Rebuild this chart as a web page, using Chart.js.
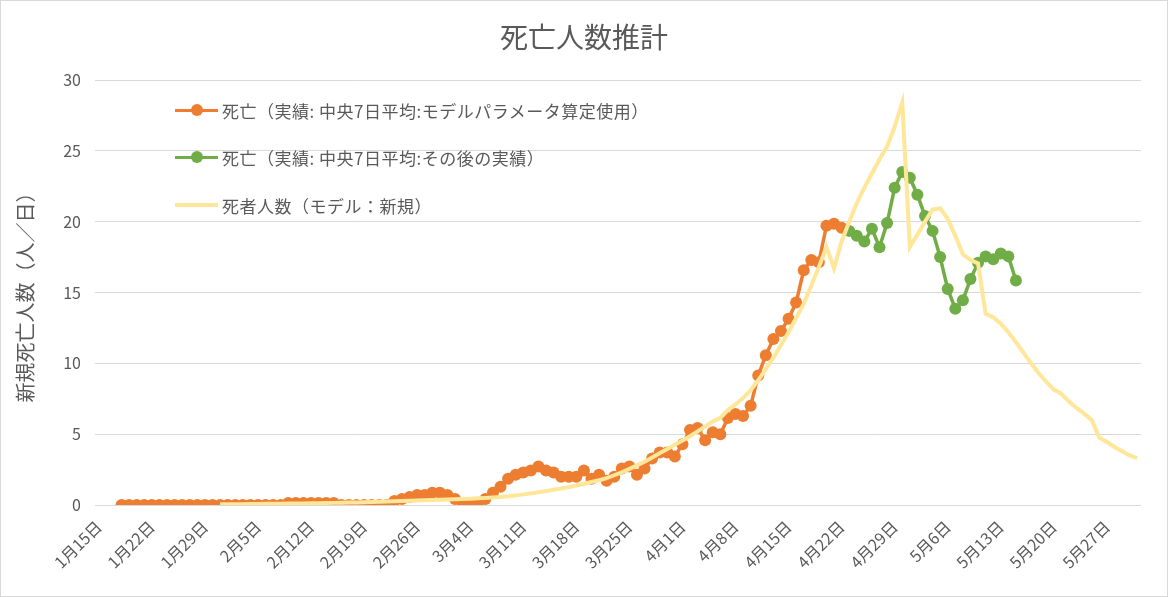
<!DOCTYPE html>
<html lang="ja">
<head>
<meta charset="utf-8">
<script src="https://cdn.jsdelivr.net/npm/chart.js@4.4.1/dist/chart.umd.min.js"></script>
<style>
  html, body { margin: 0; padding: 0; background: #fff; }
  #wrap { position: relative; width: 1168px; height: 597px; }
  #frame { position: absolute; left: 0; top: 0; width: 1168px; height: 597px; box-sizing: border-box; border: 1px solid #d9d9d9; pointer-events: none; }
  canvas { position: absolute; left: 0; top: 0; }
  .legend { position: absolute; left: 175px; top: 0; font-family: "Noto Sans CJK JP", sans-serif; font-size: 17px; letter-spacing: 0.5px; color: #595959; }
  .row { position: absolute; left: 0; height: 24px; display: flex; align-items: center; white-space: nowrap; }
  .mark { position: relative; width: 43px; height: 24px; margin-right: 4px; }
  .mark i { position: absolute; left: 0; right: 0; top: 10.5px; height: 3.5px; }
  .mark b { position: absolute; left: 16px; top: 6px; width: 12px; height: 12px; border-radius: 50%; }
</style>
</head>
<body>
<div id="wrap">
  <canvas id="death-chart" width="1168" height="597"></canvas>
  <div class="legend">
    <div class="row" style="top:98px"><span class="mark"><i style="background:#ED7D31"></i><b style="background:#ED7D31"></b></span>死亡（実績: 中央7日平均:モデルパラメータ算定使用）</div>
    <div class="row" style="top:145px"><span class="mark"><i style="background:#70AD47"></i><b style="background:#70AD47"></b></span>死亡（実績: 中央7日平均:その後の実績）</div>
    <div class="row" style="top:193px"><span class="mark"><i style="background:#FFE699;height:4px;top:10px"></i></span>死者人数（モデル：新規）</div>
  </div>
  <div id="frame"></div>
</div>
<script>
// days from 1/15 to 5/31 (2020)
var dayLabels = []
for (var i = 0; i < 138; i++) {
  var d = new Date(Date.UTC(2020, 0, 15 + i))
  dayLabels.push((d.getUTCMonth() + 1) + '月' + d.getUTCDate() + '日')
}

// 死亡（実績: 中央7日平均:モデルパラメータ算定使用） from 1月18日
var fittedStart = '1月18日'
var fittedDeaths = [
  0, 0, 0, 0, 0, 0, 0, 0, 0, 0, 0, 0, 0, 0, 0, 0, 0, 0, 0, 0, 0, 0,
  0.14, 0.14, 0.14, 0.14, 0.14, 0.14, 0.14,
  0, 0, 0, 0, 0, 0, 0,
  0.29, 0.43, 0.57, 0.71, 0.71, 0.86, 0.86, 0.71, 0.43, 0.14,
  0.14, 0.14, 0.43, 0.86, 1.29, 1.86, 2.14, 2.29, 2.43, 2.71,
  2.43, 2.29, 2.0, 2.0, 2.0, 2.43, 1.86, 2.14, 1.71, 2.0,
  2.57, 2.71, 2.14, 2.57, 3.29, 3.71, 3.71, 3.43, 4.29, 5.29,
  5.43, 4.57, 5.14, 5.0, 6.14, 6.43, 6.29, 7.0, 9.14, 10.57,
  11.71, 12.29, 13.14, 14.29, 16.57, 17.29, 17.14, 19.71, 19.86, 19.57
]

// 死亡（実績: 中央7日平均:その後の実績） from 4月23日
var laterStart = '4月23日'
var laterDeaths = [
  19.35, 19.0, 18.6, 19.5, 18.2, 19.9, 22.4, 23.5, 23.1, 21.9,
  20.4, 19.35, 17.5, 15.25, 13.85, 14.45, 15.95, 17.1, 17.55, 17.35,
  17.75, 17.55, 15.85
]

// 死者人数（モデル：新規） from 1月31日
var modelStart = '1月31日'
var modelDeaths = [
  0.05, 0.05, 0.06, 0.06, 0.07, 0.07, 0.08, 0.08, 0.09, 0.10,
  0.10, 0.11, 0.12, 0.13, 0.14, 0.15, 0.16, 0.17, 0.18, 0.20,
  0.21, 0.23, 0.25, 0.26, 0.28, 0.30, 0.31, 0.33, 0.35, 0.37,
  0.38, 0.40, 0.42, 0.44, 0.47, 0.50, 0.53, 0.57, 0.62, 0.68,
  0.75, 0.82, 0.90, 0.98, 1.07, 1.16, 1.26, 1.37, 1.50, 1.62,
  1.75, 1.90, 2.10, 2.30, 2.55, 2.80, 3.05, 3.35, 3.65, 3.95,
  4.25, 4.55, 4.85, 5.20, 5.55, 5.90, 6.15, 6.70, 7.10, 7.55,
  8.10, 8.80, 9.60, 10.40, 11.30, 12.20, 13.20, 14.20, 15.50, 16.80,
  18.20, 16.70, 18.60, 20.00, 21.30, 22.40, 23.40, 24.40, 25.30, 26.70,
  28.40, 18.20, 19.10, 20.00, 20.85, 20.95, 20.20, 19.00, 17.70, 17.30,
  17.05, 13.50, 13.25, 12.80, 12.20, 11.50, 10.75, 10.00, 9.30, 8.70,
  8.15, 7.85, 7.30, 6.85, 6.45, 6.00, 4.75, 4.45, 4.10, 3.80,
  3.50, 3.30
]

var yTicks = [0, 5, 10, 15, 20, 25, 30]

function place(start, values) {
  var out = dayLabels.map(function () { return null })
  var k = dayLabels.indexOf(start)
  values.forEach(function (v, j) { out[k + j] = v })
  return out
}

var font = '"Noto Sans CJK JP", "Noto Sans", sans-serif'
var grey = '#595959'

var ctx = document.getElementById('death-chart').getContext('2d')
var chart = new Chart(ctx, {
  type: 'line',
  data: {
    labels: dayLabels,
    datasets: [{
      label: '死亡（実績: 中央7日平均:モデルパラメータ算定使用）',
      data: place(fittedStart, fittedDeaths),
      borderColor: '#ED7D31',
      backgroundColor: '#ED7D31',
      borderWidth: 3.5,
      pointRadius: 6,
      pointBorderWidth: 0,
      order: 3
    }, {
      label: '死亡（実績: 中央7日平均:その後の実績）',
      data: place(laterStart, laterDeaths),
      borderColor: '#70AD47',
      backgroundColor: '#70AD47',
      borderWidth: 3.5,
      pointRadius: 6,
      pointBorderWidth: 0,
      order: 2
    }, {
      label: '死者人数（モデル：新規）',
      data: place(modelStart, modelDeaths),
      borderColor: '#FFE699',
      borderWidth: 4,
      pointRadius: 0,
      order: 1
    }]
  },
  options: {
    responsive: false,
    animation: false,
    layout: { padding: 0 },
    plugins: {
      legend: { display: false },
      tooltip: { enabled: false },
      title: {
        display: true,
        text: '死亡人数推計',
        color: grey,
        font: { family: font, size: 28, weight: 'normal' },
        padding: { top: 21, bottom: 25.4 }
      }
    },
    scales: {
      x: {
        offset: true,
        grid: { display: false },
        border: { display: false },
        ticks: {
          autoSkip: false,
          minRotation: 45,
          maxRotation: 45,
          padding: 4,
          color: grey,
          font: { family: font, size: 16 },
          callback: function (v, i) { return i % 7 === 0 ? this.getLabelForValue(v) : '' }
        },
        afterFit: function (s) { s.height = 92 }
      },
      y: {
        min: 0,
        max: 30,
        afterBuildTicks: function (s) { s.ticks = yTicks.map(function (v) { return { value: v } }) },
        grid: { color: '#d9d9d9', drawTicks: false },
        border: { display: false },
        ticks: { padding: 14, color: grey, font: { family: font, size: 16 } },
        title: {
          display: true,
          text: '新規死亡人数（人／日）',
          color: grey,
          font: { family: font, size: 20 },
          padding: { top: 13, bottom: 0 }
        },
        afterFit: function (s) { s.width = 95 }
      },
      // empty strip on the right so the plot ends where the reference does
      right: {
        position: 'right',
        grid: { display: false },
        border: { display: false },
        ticks: { display: false },
        afterFit: function (s) { s.width = 27 }
      }
    }
  }
})
</script>
</body>
</html>
